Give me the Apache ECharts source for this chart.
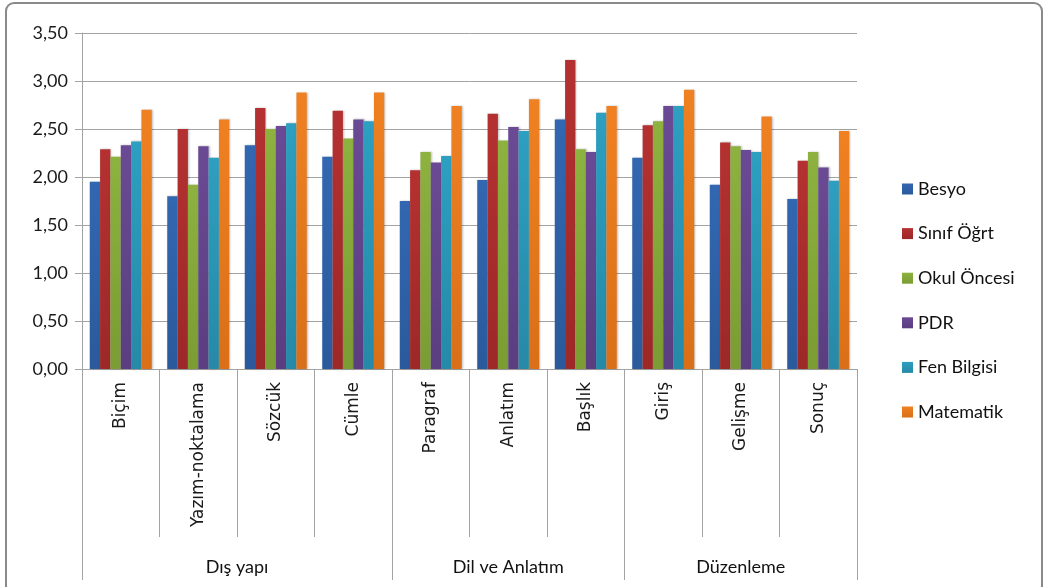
<!DOCTYPE html>
<html>
<head>
<meta charset="utf-8">
<script src="https://cdn.jsdelivr.net/npm/echarts@6/dist/echarts.min.js"></script>
<style>
  html, body { margin: 0; padding: 0; background: #fff; }
  #chart { width: 1044px; height: 587px; }
</style>
</head>
<body>
<div id="chart"></div>
<script>
// Criteria (inner axis) and their groups (outer axis)
const categories = ['Biçim', 'Yazım-noktalama', 'Sözcük', 'Cümle', 'Paragraf', 'Anlatım', 'Başlık', 'Giriş', 'Gelişme', 'Sonuç'];
const groups = ['Dış yapı', 'Dil ve Anlatım', 'Düzenleme'];
const groupSizes = [4, 3, 3];

// Mean scores per department
const besyo     = [1.95, 1.80, 2.33, 2.21, 1.75, 1.97, 2.60, 2.20, 1.92, 1.77];
const sinifOgrt = [2.29, 2.50, 2.72, 2.69, 2.07, 2.66, 3.22, 2.54, 2.36, 2.17];
const okulOnc   = [2.21, 1.92, 2.50, 2.40, 2.26, 2.38, 2.29, 2.58, 2.32, 2.26];
const pdr       = [2.33, 2.32, 2.53, 2.60, 2.15, 2.52, 2.26, 2.74, 2.28, 2.10];
const fenBil    = [2.37, 2.20, 2.56, 2.58, 2.22, 2.48, 2.67, 2.74, 2.26, 1.96];
const matematik = [2.70, 2.60, 2.88, 2.88, 2.74, 2.81, 2.74, 2.91, 2.63, 2.48];

const seriesNames = ['Besyo', 'Sınıf Öğrt', 'Okul Öncesi', 'PDR', 'Fen Bilgisi', 'Matematik'];
const seriesData = [besyo, sinifOgrt, okulOnc, pdr, fenBil, matematik];
const colors = ['#3267b1', '#b53131', '#8db23f', '#6a4a94', '#2d9fc0', '#ef8122'];
const darker = ['#2a5a9c', '#9c2828', '#7a9c33', '#5a3e80', '#2689a7', '#d96f18'];

// Outer axis runs in half-category units: boundaries and label centres
const half = 2;
const groupBounds = [0];
groupSizes.forEach(s => groupBounds.push(groupBounds[groupBounds.length - 1] + s * half));
const groupCentres = groupSizes.map((s, i) => groupBounds[i] + s);
const groupByCentre = {};
groupCentres.forEach((c, i) => { groupByCentre[c] = groups[i]; });

const gray = '#a3a3a3';
const labelFont = 'Lato, "Open Sans", sans-serif';

const chart = echarts.init(document.getElementById('chart'), null, { renderer: 'canvas' });

chart.setOption({
  animation: false,
  backgroundColor: '#fff',
  color: colors,
  graphic: [{
    type: 'rect',
    shape: { x: 6, y: 3, width: 1036, height: 610, r: 8 },
    style: { fill: 'none', stroke: '#8a8a8a', lineWidth: 2 },
    silent: true,
    z: -1
  }],
  grid: { left: 82, right: 187, top: 33, bottom: 218, containLabel: false },
  legend: {
    orient: 'vertical',
    left: 897,
    top: 175,
    itemWidth: 11,
    itemHeight: 11,
    itemGap: 26.6,
    icon: 'rect',
    textStyle: { fontFamily: labelFont, fontSize: 18, color: '#111', lineHeight: 18 },
    data: seriesNames
  },
  xAxis: [{
    type: 'category',
    data: categories,
    gridIndex: 0,
    position: 'bottom',
    axisLine: { show: true, lineStyle: { color: gray, width: 1 } },
    axisTick: { show: true, interval: 0, length: 168, lineStyle: { color: gray } },
    axisLabel: {
      interval: 0,
      rotate: 90,
      margin: 13,
      fontFamily: '"DejaVu Sans", sans-serif',
      fontSize: 17,
      color: '#1a1a1a'
    },
    splitLine: { show: false }
  }, {
    type: 'value',
    gridIndex: 0,
    position: 'bottom',
    offset: 168,
    min: 0,
    max: categories.length * half,
    axisLine: { show: false },
    axisTick: {
      show: true,
      customValues: groupBounds,
      length: 43,
      lineStyle: { color: gray }
    },
    axisLabel: {
      customValues: groupCentres,
      formatter: v => groupByCentre[v] || '',
      margin: 21,
      fontFamily: labelFont,
      fontSize: 18,
      color: '#111'
    },
    splitLine: { show: false }
  }],
  yAxis: {
    type: 'value',
    min: 0,
    max: 3.5,
    interval: 0.5,
    axisLine: { show: true, lineStyle: { color: gray } },
    axisTick: { show: true, length: 7, lineStyle: { color: gray } },
    axisLabel: {
      formatter: v => v.toFixed(2).replace('.', ','),
      fontFamily: labelFont,
      fontSize: 18,
      color: '#1a1a1a',
      margin: 14
    },
    splitLine: { show: true, lineStyle: { color: gray, width: 1 } }
  },
  series: seriesNames.map((name, i) => ({
    name,
    type: 'bar',
    xAxisIndex: 0,
    data: seriesData[i],
    barGap: '0%',
    barCategoryGap: '20%',
    itemStyle: {
      color: new echarts.graphic.LinearGradient(0, 0, 0, 1, [
        { offset: 0, color: colors[i] },
        { offset: 1, color: darker[i] }
      ]),
      shadowColor: 'rgba(0,0,0,0.25)',
      shadowBlur: 2,
      shadowOffsetX: 1
    }
  }))
});
</script>
</body>
</html>
